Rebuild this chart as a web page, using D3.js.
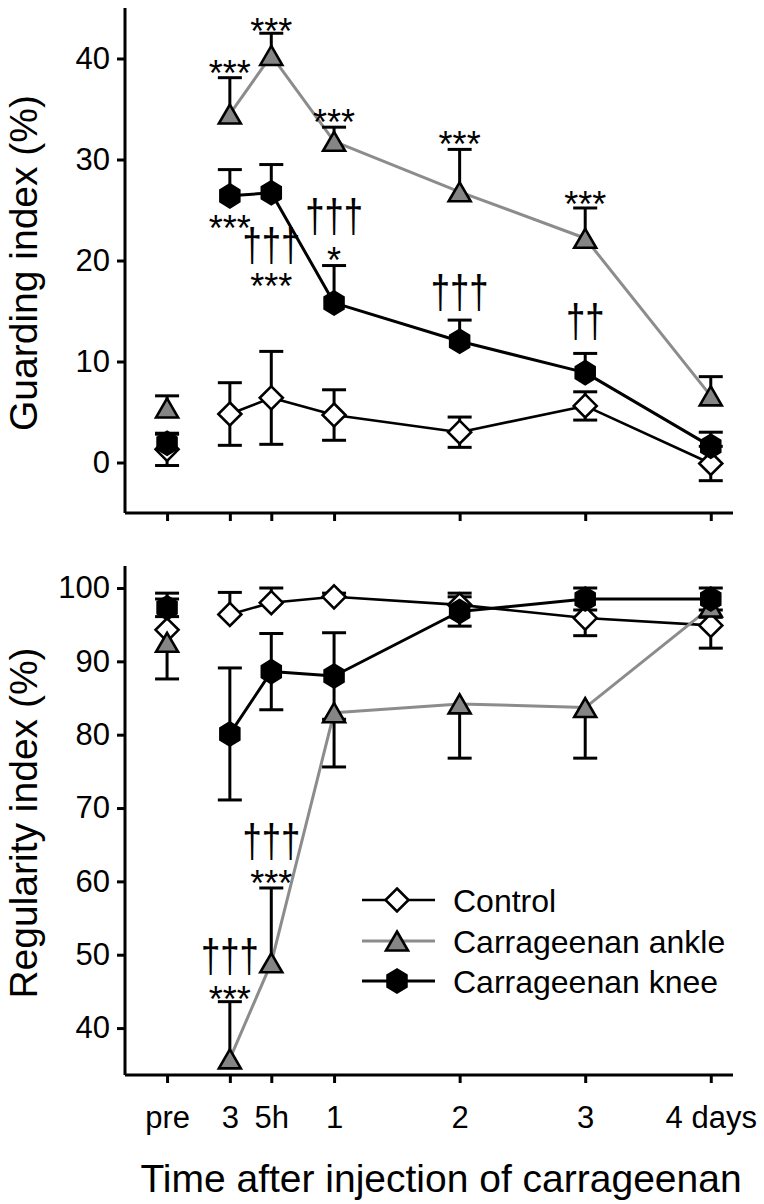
<!DOCTYPE html>
<html>
<head>
<meta charset="utf-8">
<script src="https://cdn.jsdelivr.net/npm/d3@7"></script>
<style>
  html, body { margin: 0; padding: 0; background: #fff; }
  svg { display: block; }
  text { font-family: "Liberation Sans", Arial, sans-serif; fill: #000; }
</style>
</head>
<body>
<svg id="chart" width="764" height="1204"></svg>
<script>
// ---- data ----
const times = [-0.33, 0.17, 0.5, 1, 2, 3, 4];          // time-axis coordinate of each sampling point
const tickLabels = ["pre", "3", "5h", "1", "2", "3", "4 days"];

// Guarding index (%)
const guardControl    = [1.3, 4.8, 6.4, 4.7, 3.0, 5.6, -0.1];
const guardControlErr = [1.6, 3.1, 4.6, 2.5, 1.5, 1.4, 1.7];
const guardAnkle      = [5.4, 34.5, 40.3, 31.8, 26.8, 22.2, 6.6];
const guardAnkleErr   = [1.2, 3.6, 2.2, 1.4, 4.2, 3.0, 1.9];
const guardKnee       = [1.9, 26.4, 26.7, 15.8, 12.0, 8.9, 1.6];
const guardKneeErr    = [0.9, 2.6, 2.8, 3.7, 2.1, 1.9, 1.4];
const guardControlDir = ["both","both","both","both","both","both","both"];
const guardAnkleDir   = ["up","up","up","up","up","up","up"];
const guardKneeDir    = ["up","up","up","up","up","up","up"];

// Regularity index (%)
const regControl    = [94.3, 96.4, 98.0, 98.8, 97.7, 95.9, 94.9];
const regControlErr = [5.0, 3.0, 2.0, 0.5, 1.6, 2.4, 3.1];
const regAnkle      = [92.6, 35.8, 48.9, 83.0, 84.2, 83.7, 97.4];
const regAnkleErr   = [5.0, 7.8, 10.2, 7.4, 7.4, 6.9, 1.4];
const regKnee       = [97.3, 80.1, 88.6, 88.0, 96.8, 98.5, 98.5];
const regKneeErr    = [1.2, 9.0, 5.2, 5.9, 2.0, 1.5, 1.5];
const regControlDir = ["up","up","up","up","up","down","down"];
const regAnkleDir   = ["down","up","up","down","down","down","down"];
const regKneeDir    = ["both","both","both","both","both","both","both"];

const guardTicks = [0, 10, 20, 30, 40];
const regTicks = [40, 50, 60, 70, 80, 90, 100];

const seriesNames = ["Control", "Carrageenan ankle", "Carrageenan knee"];

// significance annotations: [time index, text, value of glyph centre]
const guardStars = [
  [1, "***", 39.4], [2, "***", 43.5], [3, "***", 34.5], [4, "***", 32.3], [5, "***", 26.4],
  [1, "***", 24.0], [2, "***", 18.3], [3, "*", 20.8]
];
const guardDaggers = [
  [2, "†††", 21.1], [3, "†††", 23.9], [4, "†††", 16.4], [5, "††", 13.5]
];
const regStars = [[1, "***", 45.0], [2, "***", 60.9]];
const regDaggers = [[1, "†††", 49.2], [2, "†††", 64.9]];

// ---- drawing ----
const svg = d3.select("#chart");
const X0 = 125, X1 = 733;
const x = d3.scaleLinear().domain([-0.665, 4.177]).range([X0, X1]);

const yG = d3.scaleLinear().domain([-5, 45]).range([513, 8]);
const yR = d3.scaleLinear().domain([33.6, 103]).range([1075, 566]);

const GRAY_FILL = "#858585", GRAY_LINE = "#8c8c8c";

function markerPath(type) {
  if (type === "diamond") {
    const r = 11.5;
    return `M0,${-r}L${r},0L0,${r}L${-r},0Z`;
  }
  if (type === "triangle") {
    const w = 11, h = 9.5;
    return `M0,${-h}L${w},${h}L${-w},${h}Z`;
  }
  // hexagon, pointy top
  const r = 11.5;
  const pts = d3.range(6).map(i => {
    const a = Math.PI / 2 + i * Math.PI / 3;
    return [r * Math.cos(a) * 0.95, -r * Math.sin(a)];
  });
  return "M" + pts.map(p => p.join(",")).join("L") + "Z";
}

const styles = [
  { marker: "diamond", fill: "#fff", line: "#000", lw: 2.6 },
  { marker: "triangle", fill: GRAY_FILL, line: GRAY_LINE, lw: 3 },
  { marker: "hexagon", fill: "#000", line: "#000", lw: 3 }
];

function drawAxes(g, y, ticks, showXLabels) {
  const ax = g.append("g").attr("transform", `translate(${X0},0)`)
    .call(d3.axisLeft(y).tickValues(ticks).tickSize(8).tickSizeOuter(0).tickPadding(7));
  const bx = g.append("g").attr("transform", `translate(0,${y.range()[0]})`)
    .call(d3.axisBottom(x).tickValues(times).tickSize(8).tickSizeOuter(0).tickPadding(23)
      .tickFormat((d, i) => showXLabels ? tickLabels[i] : ""));
  [ax, bx].forEach(a => {
    a.select(".domain").attr("stroke", "#000").attr("stroke-width", 3);
    a.selectAll(".tick line").attr("stroke", "#000").attr("stroke-width", 3);
    a.selectAll(".tick text").style("font-size", "31px").attr("fill", "#000");
  });
  ax.select(".domain").attr("d", `M0,${y.range()[0]}V${y.range()[1]}`);
  bx.select(".domain").attr("d", `M${X0},0H${X1}`);
}

function drawPanel(y, vals, errs, dirs, ticks, showXLabels) {
  const g = svg.append("g");
  drawAxes(g, y, ticks, showXLabels);
  const capW = 12;
  vals.forEach((v, s) => {
    const line = d3.line().x((d, i) => x(times[i + 1])).y(d => y(d));
    g.append("path").attr("d", line(v.slice(1)))
      .attr("fill", "none").attr("stroke", styles[s].line).attr("stroke-width", styles[s].lw)
      .attr("stroke-linejoin", "round");
  });
  vals.forEach((v, s) => {
    v.forEach((d, i) => {
      const e = errs[s][i], dir = dirs[s][i];
      const cx = x(times[i]);
      const ends = [];
      if (dir === "up" || dir === "both") ends.push(d + e);
      if (dir === "down" || dir === "both") ends.push(d - e);
      ends.forEach(t => {
        g.append("line").attr("x1", cx).attr("x2", cx).attr("y1", y(d)).attr("y2", y(t))
          .attr("stroke", "#000").attr("stroke-width", 3);
        g.append("line").attr("x1", cx - capW).attr("x2", cx + capW).attr("y1", y(t)).attr("y2", y(t))
          .attr("stroke", "#000").attr("stroke-width", 3);
      });
    });
  });
  vals.forEach((v, s) => {
    g.selectAll(null).data(v).enter().append("path")
      .attr("d", markerPath(styles[s].marker))
      .attr("transform", (d, i) => `translate(${x(times[i])},${y(d)})`)
      .attr("fill", styles[s].fill).attr("stroke", "#000").attr("stroke-width", 2.6)
      .attr("stroke-linejoin", "miter");
  });
  return g;
}

function drawNotes(g, y, stars, daggers) {
  stars.forEach(([i, t, v]) => {
    g.append("text").attr("x", x(times[i])).attr("y", y(v) + 21)
      .attr("text-anchor", "middle").style("font-size", "36px").text(t);
  });
  daggers.forEach(([i, t, v]) => {
    g.append("text")
      .attr("transform", `translate(${x(times[i])},${y(v)}) scale(1.05,1.4)`)
      .attr("y", 8)
      .attr("text-anchor", "middle").style("font-size", "33px").text(t);
  });
}

const gTop = drawPanel(yG, [guardControl, guardAnkle, guardKnee],
  [guardControlErr, guardAnkleErr, guardKneeErr],
  [guardControlDir, guardAnkleDir, guardKneeDir], guardTicks, false);
drawNotes(gTop, yG, guardStars, guardDaggers);

const gBot = drawPanel(yR, [regControl, regAnkle, regKnee],
  [regControlErr, regAnkleErr, regKneeErr],
  [regControlDir, regAnkleDir, regKneeDir], regTicks, true);
drawNotes(gBot, yR, regStars, regDaggers);

// axis titles
svg.append("text").attr("transform", "translate(37,263) rotate(-90)")
  .attr("text-anchor", "middle").style("font-size", "39px").text("Guarding index (%)");
svg.append("text").attr("transform", "translate(37,823) rotate(-90)")
  .attr("text-anchor", "middle").style("font-size", "39px").text("Regularity index (%)");
svg.append("text").attr("x", 441).attr("y", 1192)
  .attr("text-anchor", "middle").style("font-size", "39px").text("Time after injection of carrageenan");

// legend
const legY = [900, 941, 981];
seriesNames.forEach((name, s) => {
  const lg = svg.append("g").attr("transform", `translate(0,${legY[s]})`);
  lg.append("line").attr("x1", 362).attr("x2", 435).attr("y1", 0).attr("y2", 0)
    .attr("stroke", styles[s].line).attr("stroke-width", styles[s].lw);
  lg.append("path").attr("d", markerPath(styles[s].marker)).attr("transform", "translate(397,0)")
    .attr("fill", styles[s].fill).attr("stroke", "#000").attr("stroke-width", 2.6);
  lg.append("text").attr("x", 453).attr("y", 11.5).style("font-size", "32px").text(name);
});
</script>
</body>
</html>
